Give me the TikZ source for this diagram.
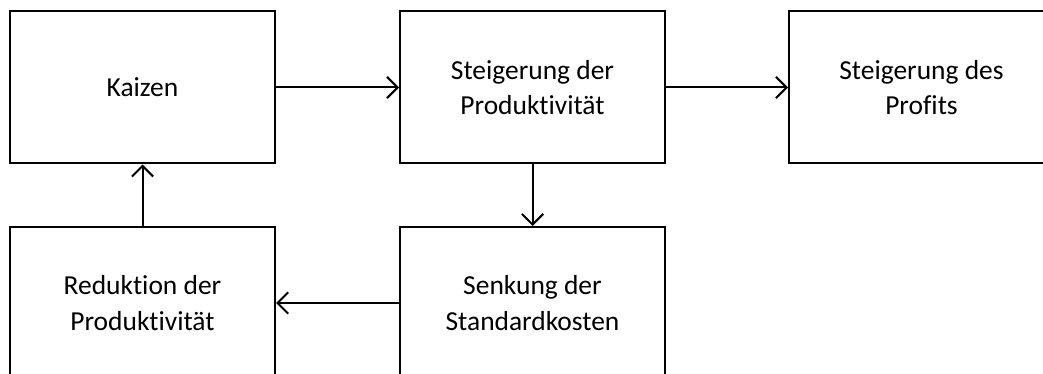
\documentclass[tikz,border=0pt]{standalone}
\usepackage{fontspec}
\setmainfont{Carlito}[Ligatures=NoCommon]
\usetikzlibrary{arrows.meta}

\begin{document}
\begin{tikzpicture}[x=0.75pt, y=-0.75pt,
    box/.style={shape=rectangle, draw=black, line width=1.5pt, minimum width=198.75pt, minimum height=114pt, align=center, font=\fontsize{20.6}{26.5}\selectfont},
    flow/.style={-{Straight Barb[length=8pt, width=16pt, line width=1.5pt]}, line width=1.5pt}]
                \clip (0, 0) rectangle (1043, 374);
                \node[box] (K) at (142.5, 87.5) {Kaizen};
                \node[box] (SP) at (532.5, 87.5) {Steigerung der\\Produktivität};
                \node[box] (SG) at (921.5, 87.5) {Steigerung des\\Profits};
                \node[box] (R) at (142.5, 303) {Reduktion der\\Produktivität};
                \node[box] (SK) at (532.5, 303) {Senkung der\\Standardkosten};
                \path[flow] (K) edge node[] {} (SP);
                \path[flow] (SP) edge node[] {} (SG);
                \path[flow] (SP) edge node[] {} (SK);
                \path[flow] (SK) edge node[] {} (R);
                \path[flow] (R) edge node[] {} (K);
\end{tikzpicture}
\end{document}
